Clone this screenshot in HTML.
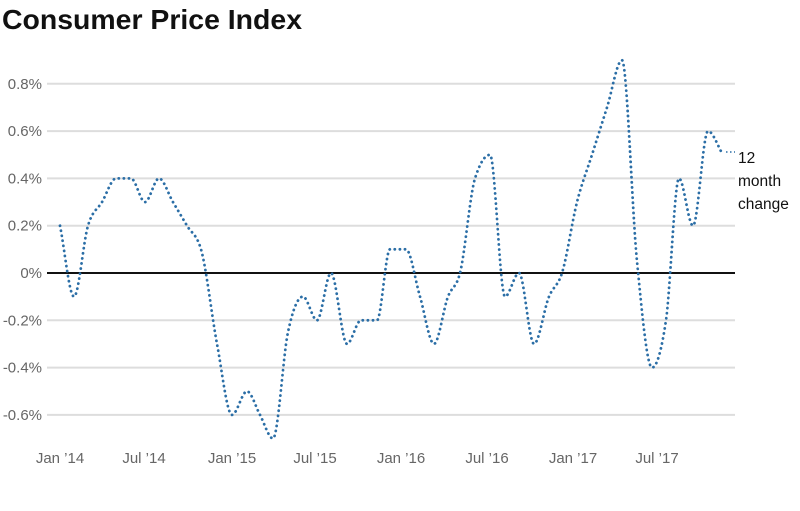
<!DOCTYPE html>
<html><head><meta charset="utf-8"><style>
html,body{margin:0;padding:0;background:#fff;width:800px;height:511px;overflow:hidden}
svg{display:block;font-family:"Liberation Sans",Arial,sans-serif}
</style></head><body>
<svg id="s" width="800" height="511" viewBox="0 0 800 511">
<text x="2" y="29" font-size="28" font-weight="bold" fill="#111" textLength="300" lengthAdjust="spacingAndGlyphs">Consumer Price Index</text>
<g id="grid"></g>
<path id="line" fill="none" stroke="#2b6ea6" stroke-width="2.8" stroke-dasharray="0.1,5" stroke-linecap="round"/>
<path d="M726 152 L735 152" stroke="#2b6ea6" stroke-width="1.4" stroke-dasharray="1.5,2.5"/>
<text x="738" y="163" font-size="15.5" fill="#111">12</text>
<text x="738" y="186" font-size="15.5" fill="#111">month</text>
<text x="738" y="209" font-size="15.5" fill="#111">change</text>
</svg>
<script>
var NS="http://www.w3.org/2000/svg",g=document.getElementById("grid");
function y(v){return 273-v*236.5;}
function el(t,a,txt){var e=document.createElementNS(NS,t);for(var k in a)e.setAttribute(k,a[k]);if(txt)e.textContent=txt;g.appendChild(e);return e;}
var labs=[[0.8,"0.8%"],[0.6,"0.6%"],[0.4,"0.4%"],[0.2,"0.2%"],[0,"0%"],[-0.2,"-0.2%"],[-0.4,"-0.4%"],[-0.6,"-0.6%"]];
labs.forEach(function(l){var yv=y(l[0]);
 if(l[0]!==0)el("line",{x1:47,x2:735,y1:yv,y2:yv,stroke:"#ddd","stroke-width":2});
 el("text",{x:42,y:yv+5,"text-anchor":"end","font-size":15,fill:"#666"},l[1]);});
el("line",{x1:47,x2:735,y1:273,y2:273,stroke:"#111","stroke-width":2});
[["Jan ’14",60],["Jul ’14",144],["Jan ’15",232],["Jul ’15",315],["Jan ’16",401],["Jul ’16",487],["Jan ’17",573],["Jul ’17",657]].forEach(function(t){
 el("text",{x:t[1],y:463,"text-anchor":"middle","font-size":15,fill:"#666"},t[0]);});
var P=[[60,0.2],[74,-0.1],[88,0.2],[102,0.3],[116,0.4],[131,0.4],[145,0.3],[159,0.4],[173,0.3],[187,0.2],[201,0.1],[217,-0.3],[232,-0.6],[247,-0.5],[260,-0.6],[273,-0.7],[288,-0.25],[303,-0.1],[317,-0.2],[331,0.0],[347,-0.3],[361,-0.2],[377,-0.2],[390,0.1],[406,0.1],[420,-0.1],[434,-0.3],[448,-0.1],[460,0.0],[475,0.4],[490,0.5],[505,-0.1],[519,0.0],[534,-0.3],[549,-0.1],[562,0.0],[577,0.3],[592,0.5],[607,0.7],[622,0.9],[637,0.05],[652,-0.4],[666,-0.2],[679,0.4],[693,0.2],[708,0.6],[723,0.5]];
var pts=P.map(function(p){return [p[0],y(p[1])];});
var n=pts.length,m=[],s=[];
for(var i=0;i<n-1;i++)s[i]=(pts[i+1][1]-pts[i][1])/(pts[i+1][0]-pts[i][0]);
for(var i=0;i<n;i++){
 if(i==0)m[i]=s[0];else if(i==n-1)m[i]=s[n-2];
 else{var a=s[i-1],b=s[i];if(a*b<=0)m[i]=0;else{var h0=pts[i][0]-pts[i-1][0],h1=pts[i+1][0]-pts[i][0];var p=(a*h1+b*h0)/(h0+h1);
 m[i]=(Math.sign(a)+Math.sign(b))*Math.min(Math.abs(a),Math.abs(b),0.5*Math.abs(p));}}}
var d="M"+pts[0][0]+" "+pts[0][1].toFixed(1);
for(var i=0;i<n-1;i++){var x0=pts[i][0],x1=pts[i+1][0],dx=(x1-x0)/3;
 d+=" C"+(x0+dx).toFixed(1)+" "+(pts[i][1]+dx*m[i]).toFixed(1)+" "+(x1-dx).toFixed(1)+" "+(pts[i+1][1]-dx*m[i+1]).toFixed(1)+" "+x1+" "+pts[i+1][1].toFixed(1);}
document.getElementById("line").setAttribute("d",d);
</script>
</body></html>
